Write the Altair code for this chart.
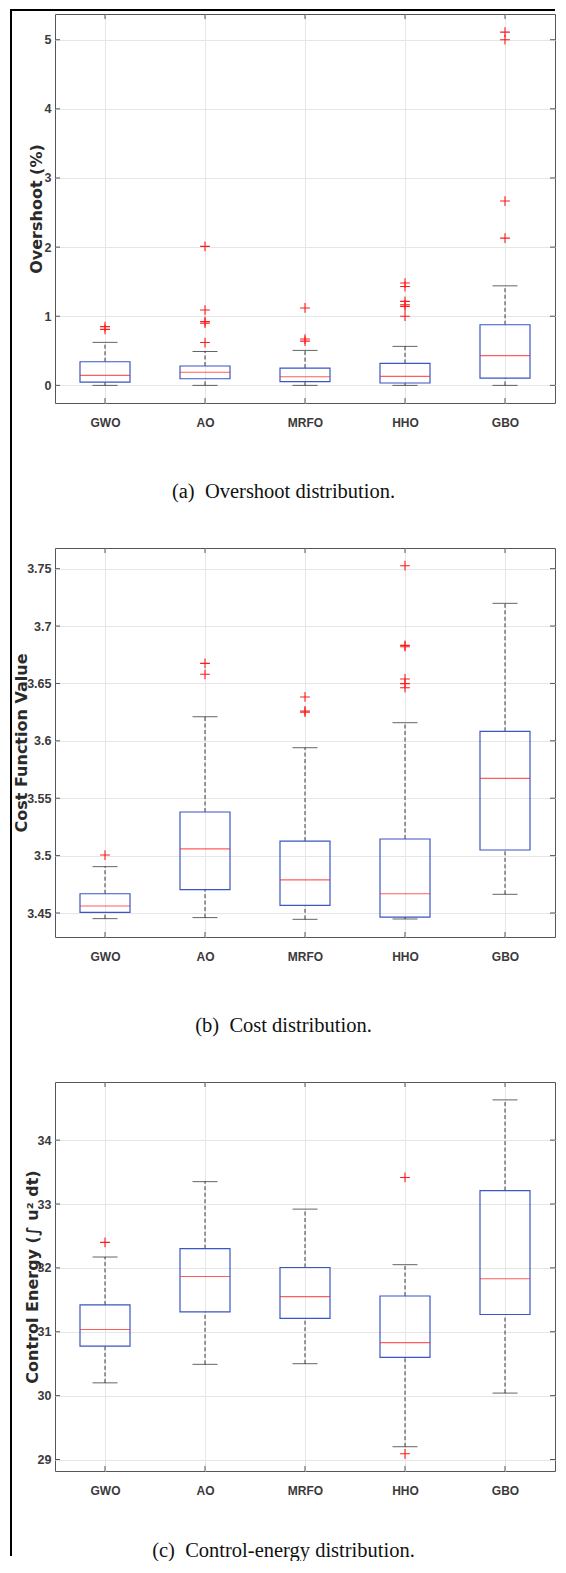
import altair as alt
import pandas as pd

ALGS = ["GWO", "AO", "MRFO", "HHO", "GBO"]

# ---- (a) Overshoot (%) ----
OS_LO = [0.0, 0.0, 0.0, 0.0, 0.0]
OS_Q1 = [0.048, 0.096, 0.053, 0.034, 0.106]
OS_MED = [0.145, 0.19, 0.125, 0.13, 0.43]
OS_Q3 = [0.342, 0.28, 0.25, 0.318, 0.877]
OS_HI = [0.622, 0.49, 0.506, 0.564, 1.44]
OS_OUT_ALG = ["GWO", "GWO", "AO", "AO", "AO", "AO", "AO", "MRFO", "MRFO", "MRFO",
              "HHO", "HHO", "HHO", "HHO", "HHO", "HHO", "GBO", "GBO", "GBO", "GBO"]
OS_OUT_VAL = [0.85, 0.81, 2.01, 1.09, 0.925, 0.90, 0.62, 1.12, 0.67, 0.64,
              1.48, 1.43, 1.215, 1.167, 1.143, 1.0, 5.11, 5.0, 2.666, 2.13]
OS_TICKS = [0, 1, 2, 3, 4, 5]

# ---- (b) Cost function value ----
CF_LO = [3.4451, 3.446, 3.4445, 3.4448, 3.4663]
CF_Q1 = [3.4506, 3.4703, 3.4567, 3.4465, 3.5049]
CF_MED = [3.4561, 3.5058, 3.4788, 3.4668, 3.5673]
CF_Q3 = [3.4668, 3.538, 3.5127, 3.5145, 3.6083]
CF_HI = [3.4904, 3.621, 3.594, 3.6158, 3.7198]
CF_OUT_ALG = ["GWO", "AO", "AO", "MRFO", "MRFO", "MRFO",
              "HHO", "HHO", "HHO", "HHO", "HHO", "HHO"]
CF_OUT_VAL = [3.5005, 3.6675, 3.658, 3.6382, 3.626, 3.625,
              3.7526, 3.6832, 3.682, 3.6539, 3.6498, 3.6463]
CF_TICKS = [3.45, 3.5, 3.55, 3.6, 3.65, 3.7, 3.75]

# ---- (c) Control energy ----
CE_LO = [30.2, 30.49, 30.50, 29.2, 30.04]
CE_Q1 = [30.775, 31.31, 31.21, 30.60, 31.27]
CE_MED = [31.035, 31.865, 31.55, 30.83, 31.83]
CE_Q3 = [31.42, 32.30, 32.006, 31.56, 33.21]
CE_HI = [32.17, 33.35, 32.92, 32.05, 34.63]
CE_OUT_ALG = ["GWO", "HHO", "HHO"]
CE_OUT_VAL = [32.40, 33.415, 29.09]
CE_TICKS = [29, 30, 31, 32, 33, 34]

W, H = 500, 389
BOX_BLUE = "#3b55c4"
RED = "#ff1a1a"
FRAME = "#555555"
TICK_FONT = "Liberation Sans"
TITLE_FONT = "DejaVu Sans"
CAP_FONT = "Liberation Serif"
PLUS = "M-1,0H1M0,-1V1"


def panel(lo, q1, med, q3, hi, out_alg, out_val, domain, yticks, yfmt,
          ytitle, ytitle_x, caption, cap_y, border=False):
    summ = pd.DataFrame({"alg": ALGS, "lo": lo, "q1": q1, "med": med, "q3": q3, "hi": hi})
    outs = pd.DataFrame({"alg": out_alg, "v": out_val})
    ticks = pd.DataFrame({"v": yticks})
    cats = pd.DataFrame({"alg": ALGS})

    yscale = alt.Scale(domain=domain, nice=False, zero=False)
    yaxis = alt.Axis(values=yticks, format=yfmt, grid=True, gridColor="#e6e6e6",
                     ticks=False, tickSize=0, domain=False, labelPadding=4,
                     labelFont=TICK_FONT, labelFontSize=12.5, labelFontWeight="bold",
                     labelColor="#3a3a3a", title=ytitle, titleFont=TITLE_FONT,
                     titleFontSize=16, titleFontWeight="bold", titleColor="#2a2a2a",
                     titleX=ytitle_x, titleY=H / 2, titleAngle=270,
                     titleAlign="center", titleBaseline="middle")
    xscale = alt.Scale(domain=ALGS, type="point", padding=0.5)
    xaxis = alt.Axis(grid=True, gridColor="#e6e6e6", ticks=False, tickSize=0,
                     domain=False, labelPadding=14, labelFont=TICK_FONT,
                     labelFontSize=12, labelFontWeight="bold", labelColor="#3a3a3a",
                     labelAngle=0, title=caption, titleFont=CAP_FONT, titleFontSize=20.5,
                     titleFontWeight="normal", titleColor="#111111",
                     titleX=283 - 55, titleY=cap_y, titleAlign="center",
                     titleBaseline="alphabetic")

    def X():
        return alt.X("alg:N", scale=xscale, axis=xaxis, sort=ALGS)

    def Y(f):
        return alt.Y(f + ":Q", scale=yscale, axis=yaxis)

    base = alt.Chart(summ)
    whisk_lo = base.mark_rule(color="#3a3a3a", strokeDash=[4, 2.5], strokeWidth=1).encode(
        x=X(), y=Y("lo"), y2="q1")
    whisk_hi = base.mark_rule(color="#3a3a3a", strokeDash=[4, 2.5], strokeWidth=1).encode(
        x=X(), y=Y("q3"), y2="hi")
    cap_lo = base.mark_tick(color="#222222", size=25, thickness=1).encode(x=X(), y=Y("lo"))
    cap_hi = base.mark_tick(color="#222222", size=25, thickness=1).encode(x=X(), y=Y("hi"))
    box = base.mark_bar(size=50, fill="white", fillOpacity=0, stroke=BOX_BLUE,
                        strokeWidth=1.2).encode(x=X(), y=Y("q1"), y2="q3")
    median = base.mark_tick(color=RED, size=50, thickness=1.2).encode(x=X(), y=Y("med"))
    outl = alt.Chart(outs).mark_point(shape=PLUS, size=95, filled=False, color=RED,
                                      strokeWidth=1.1, opacity=1).encode(x=X(), y=Y("v"))
    # inward ticks on all four sides
    tl = alt.Chart(ticks).mark_rule(color=FRAME).encode(
        y=Y("v"), x=alt.value(0), x2=alt.value(5))
    tr = alt.Chart(ticks).mark_rule(color=FRAME).encode(
        y=Y("v"), x=alt.value(W - 5), x2=alt.value(W))
    tb = alt.Chart(cats).mark_rule(color=FRAME).encode(
        x=X(), y=alt.value(H - 5), y2=alt.value(H))
    tt = alt.Chart(cats).mark_rule(color=FRAME).encode(
        x=X(), y=alt.value(0), y2=alt.value(5))

    layers = [whisk_lo, whisk_hi, cap_lo, cap_hi, box, median, outl, tl, tr, tb, tt]
    if border:
        lb = alt.Chart(cats).mark_rule(color="black", strokeWidth=2).encode(
            x=alt.value(-44), y=alt.value(-4), y2=alt.value(1542))
        topb = alt.Chart(cats).mark_rule(color="black", strokeWidth=2).encode(
            x=alt.value(-45), x2=alt.value(W), y=alt.value(-4))
        layers += [lb, topb]
    return alt.layer(*layers).properties(width=W, height=H)


p1 = panel(OS_LO, OS_Q1, OS_MED, OS_Q3, OS_HI, OS_OUT_ALG, OS_OUT_VAL,
           [-0.255, 5.372], OS_TICKS, "d", "Overshoot (%)", -19,
           "(a)\u2002Overshoot distribution.", 94, border=True)
p2 = panel(CF_LO, CF_Q1, CF_MED, CF_Q3, CF_HI, CF_OUT_ALG, CF_OUT_VAL,
           [3.4291, 3.768], CF_TICKS, "~g", "Cost Function Value", -34,
           "(b)\u2002Cost distribution.", 94)
p3 = panel(CE_LO, CE_Q1, CE_MED, CE_Q3, CE_HI, CE_OUT_ALG, CE_OUT_VAL,
           [28.82, 34.91], CE_TICKS, "d", "Control Energy (\u222b u\u00b2 dt)", -23,
           "(c)\u2002Control-energy distribution.", 85)

chart = alt.vconcat(p1, p2, p3, spacing=145, bounds="flush").properties(
    padding=0, background="white"
).configure_view(stroke=FRAME, strokeWidth=1)

chart.save("out.html", embed_options={"renderer": "svg", "actions": False})
